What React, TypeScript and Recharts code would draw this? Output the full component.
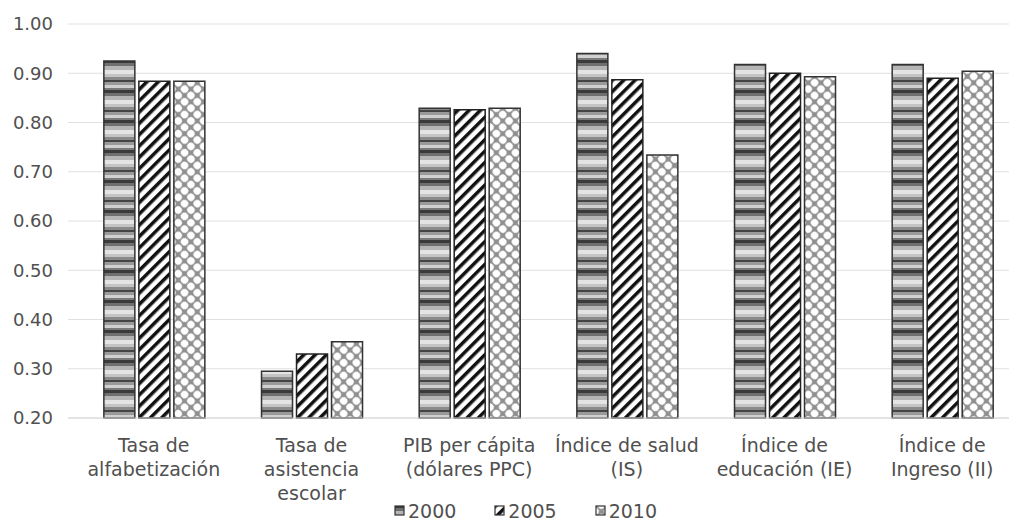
import { BarChart, Bar, XAxis, YAxis, CartesianGrid, Legend } from "recharts";

const categories = [
  "Tasa de\nalfabetización",
  "Tasa de\nasistencia\nescolar",
  "PIB per cápita\n(dólares PPC)",
  "Índice de salud\n(IS)",
  "Índice de\neducación (IE)",
  "Índice de\nIngreso (II)",
];
const values2000 = [0.925, 0.295, 0.829, 0.94, 0.918, 0.918];
const values2005 = [0.884, 0.33, 0.826, 0.887, 0.9, 0.89];
const values2010 = [0.884, 0.355, 0.829, 0.734, 0.893, 0.904];
const yTicks = [0.2, 0.3, 0.4, 0.5, 0.6, 0.7, 0.8, 0.9, 1.0];
const seriesNames = ["2000", "2005", "2010"];

const data = categories.map((name, i) => ({
  name,
  y2000: values2000[i],
  y2005: values2005[i],
  y2010: values2010[i],
}));

const font = "DejaVu Sans";
const textColor = "#505050";
const patternIds = ["pat2000", "pat2005", "pat2010"];

function CategoryTick({ x, y, payload }: any) {
  const lines = String(payload.value).split("\n");
  return (
    <text
      x={x}
      y={y}
      textAnchor="middle"
      fill={textColor}
      fontFamily={font}
      fontSize={19}
    >
      {lines.map((line, i) => (
        <tspan key={i} x={x} dy={i === 0 ? 26 : 24}>
          {line}
        </tspan>
      ))}
    </text>
  );
}

function LegendContent() {
  return (
    <div
      style={{
        display: "flex",
        justifyContent: "center",
        paddingLeft: 30,
        paddingTop: 3,
        gap: 38,
        fontFamily: font,
        fontSize: 19,
        color: textColor,
        lineHeight: "22px",
      }}
    >
      {seriesNames.map((name, i) => (
        <div key={name} style={{ display: "flex", alignItems: "center" }}>
          <svg width={11} height={12} style={{ marginRight: 3 }}>
            <rect
              x={1}
              y={1}
              width={9}
              height={9}
              fill={`url(#${patternIds[i]})`}
              stroke="#333"
              strokeWidth={1.2}
            />
          </svg>
          <span>{name}</span>
        </div>
      ))}
    </div>
  );
}

export default function App() {
  return (
    <div
      style={{
        position: "absolute",
        left: 0,
        top: 0,
        width: 1009,
        height: 523,
        overflow: "hidden",
        background: "#fff",
      }}
    >
      <BarChart
        width={1021}
        height={523}
        data={data}
        margin={{ top: 24, right: 0, bottom: 0, left: 0 }}
        barCategoryGap="18.3%"
        barGap={4}
      >
        <defs>
          <pattern id="pat2000" patternUnits="userSpaceOnUse" width={8} height={30}>
            <rect x={0} y={0} width={8} height={30} fill="#a8a8a8" />
            <rect x={0} y={0} width={8} height={3} fill="#3a3a3a" />
            <rect x={0} y={3} width={8} height={3} fill="#6f6f6f" />
            <rect x={0} y={6} width={8} height={4} fill="#b5b5b5" />
            <rect x={0} y={10} width={8} height={4} fill="#e4e4e4" />
            <rect x={0} y={14} width={8} height={3} fill="#c4c4c4" />
            <rect x={0} y={17} width={8} height={3} fill="#8a8a8a" />
            <rect x={0} y={20} width={8} height={2} fill="#444" />
            <rect x={0} y={22} width={8} height={3} fill="#9a9a9a" />
            <rect x={0} y={25} width={8} height={3} fill="#d0d0d0" />
            <rect x={0} y={28} width={8} height={2} fill="#7a7a7a" />
          </pattern>
          <pattern
            id="pat2005"
            patternUnits="userSpaceOnUse"
            width={8}
            height={8}
            patternTransform="rotate(45)"
          >
            <rect x={0} y={0} width={8} height={8} fill="#fff" />
            <rect x={0} y={0} width={3.5} height={8} fill="#111" />
          </pattern>
          <pattern
            id="pat2010"
            patternUnits="userSpaceOnUse"
            width={9}
            height={9}
            patternTransform="rotate(45)"
          >
            <rect x={0} y={0} width={9} height={9} fill="#8f8f8f" />
            <circle cx={4.5} cy={4.5} r={3.8} fill="#fff" />
          </pattern>
        </defs>
        <CartesianGrid vertical={false} stroke="#e0e0e0" />
        <XAxis
          dataKey="name"
          interval={0}
          height={79}
          tickLine={false}
          axisLine={{ stroke: "#d9d9d9" }}
          padding={{ left: 7, right: 0 }}
          tick={<CategoryTick />}
        />
        <YAxis
          width={68}
          domain={[0.2, 1]}
          ticks={yTicks}
          axisLine={false}
          tickLine={false}
          tickSize={0}
          tickMargin={15}
          tickFormatter={(v: number) => v.toFixed(2)}
          tick={{ fill: textColor, fontFamily: font, fontSize: 18 }}
        />
        <Legend
          verticalAlign="bottom"
          height={26}
          content={<LegendContent />}
        />
        <Bar
          dataKey="y2000"
          name="2000"
          fill="url(#pat2000)"
          stroke="#333"
          strokeWidth={1.5}
          isAnimationActive={false}
        />
        <Bar
          dataKey="y2005"
          name="2005"
          fill="url(#pat2005)"
          stroke="#222"
          strokeWidth={1.5}
          isAnimationActive={false}
        />
        <Bar
          dataKey="y2010"
          name="2010"
          fill="url(#pat2010)"
          stroke="#333"
          strokeWidth={1.5}
          isAnimationActive={false}
        />
      </BarChart>
    </div>
  );
}
